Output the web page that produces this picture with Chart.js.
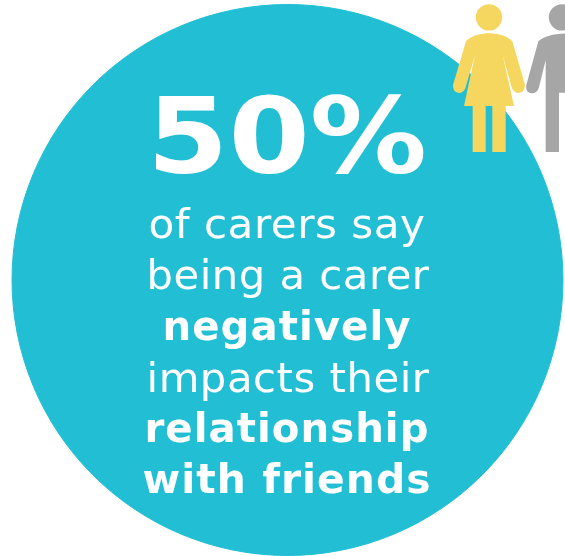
<!DOCTYPE html>
<html>
<head>
<meta charset="utf-8">
<title>Carers and friends</title>
<script src="https://cdn.jsdelivr.net/npm/chart.js@4"></script>
<style>
  html, body { margin: 0; padding: 0; background: #fff; overflow: hidden; }
  canvas { display: block; }
</style>
</head>
<body>
<canvas id="circleChart" width="565" height="556"></canvas>
<script>
const categories = ["Negatively impacted", "Other carers"];
const shareValues = [50, 50];
const headline = "50%";
const captionLines = ["of carers say", "being a carer", "negatively", "impacts their", "relationship", "with friends"];
const captionBold = [false, false, true, false, true, true];

const TEAL = "#22BFD4";
const YELLOW = "#F5D75F";
const GREY = "#A6A6A6";
const FONT = '"DejaVu Sans", sans-serif';

// baseline and width of each text line
const captionBaselines = [238, 289, 340, 392, 442, 493];
const captionWidths = [274, 280, 246, 280, 282, 286];
const captionCentres = [287, 288, 287, 288, 287, 287];

// zoom crop coords -> page coords
const zx = v => 430 + v / 3;
const zy = v => v / 3;

function drawWoman(ctx) {
  ctx.fillStyle = YELLOW;
  ctx.beginPath();
  ctx.arc(zx(177), zy(52), 13.2, 0, Math.PI * 2);
  ctx.fill();

  ctx.beginPath();
  ctx.moveTo(zx(108), zy(124));
  ctx.bezierCurveTo(zx(125), zy(106), zx(155), zy(100), zx(177), zy(100));
  ctx.bezierCurveTo(zx(200), zy(100), zx(230), zy(106), zx(247), zy(124));
  ctx.lineTo(zx(285), zy(255));
  ctx.quadraticCurveTo(zx(285), zy(278), zx(265), zy(279));
  ctx.quadraticCurveTo(zx(250), zy(278), zx(245), zy(262));
  ctx.lineTo(zx(218), zy(165));
  ctx.lineTo(zx(252), zy(318));
  ctx.lineTo(zx(227), zy(318));
  ctx.lineTo(zx(227), zy(456));
  ctx.lineTo(zx(187), zy(456));
  ctx.lineTo(zx(187), zy(318));
  ctx.lineTo(zx(167), zy(318));
  ctx.lineTo(zx(167), zy(456));
  ctx.lineTo(zx(128), zy(456));
  ctx.lineTo(zx(128), zy(318));
  ctx.lineTo(zx(102), zy(318));
  ctx.lineTo(zx(135), zy(165));
  ctx.lineTo(zx(107), zy(262));
  ctx.quadraticCurveTo(zx(102), zy(278), zx(88), zy(279));
  ctx.quadraticCurveTo(zx(68), zy(278), zx(69), zy(255));
  ctx.closePath();
  ctx.fill();
}

function drawMan(ctx) {
  ctx.fillStyle = GREY;
  ctx.beginPath();
  ctx.arc(zx(396), zy(52), 13.2, 0, Math.PI * 2);
  ctx.fill();

  ctx.beginPath();
  ctx.moveTo(zx(325), zy(124));
  ctx.bezierCurveTo(zx(345), zy(106), zx(375), zy(100), zx(420), zy(100));
  ctx.lineTo(zx(420), zy(278));
  ctx.lineTo(zx(387), zy(278));
  ctx.lineTo(zx(387), zy(456));
  ctx.lineTo(zx(347), zy(456));
  ctx.lineTo(zx(347), zy(180));
  ctx.lineTo(zx(327), zy(262));
  ctx.quadraticCurveTo(zx(322), zy(280), zx(306), zy(280));
  ctx.quadraticCurveTo(zx(286), zy(279), zx(289), zy(255));
  ctx.closePath();
  ctx.fill();
}

// draw one centred line stretched sideways to the width it has in the picture
function stretchedText(ctx, text, cx, y, targetWidth) {
  const w = ctx.measureText(text).width;
  ctx.save();
  ctx.translate(cx, y);
  ctx.scale(targetWidth / w, 1);
  ctx.fillText(text, 0, 0);
  ctx.restore();
}

const overlay = {
  id: "overlay",
  afterDraw(chart) {
    const ctx = chart.ctx;
    ctx.save();
    drawWoman(ctx);
    drawMan(ctx);

    ctx.fillStyle = "#fff";
    ctx.textAlign = "center";
    ctx.textBaseline = "alphabetic";

    ctx.font = "bold 105px " + FONT;
    stretchedText(ctx, headline, 287, 173, 280);

    captionLines.forEach((line, i) => {
      ctx.letterSpacing = captionBold[i] ? "1px" : "0.5px";
      ctx.font = (captionBold[i] ? "bold 40px " : "41px ") + FONT;
      stretchedText(ctx, line, captionCentres[i], captionBaselines[i], captionWidths[i] + 3);
    });
    ctx.restore();
  }
};

new Chart(document.getElementById("circleChart"), {
  type: "pie",
  data: {
    labels: categories,
    datasets: [{
      data: shareValues,
      backgroundColor: [TEAL, TEAL],
      borderColor: TEAL,
      borderWidth: 1
    }]
  },
  options: {
    responsive: false,
    animation: false,
    layout: { padding: { left: 11, right: 1, top: 4, bottom: 0 } },
    plugins: {
      legend: { display: false },
      tooltip: { enabled: false }
    }
  },
  plugins: [overlay]
});
</script>
</body>
</html>
